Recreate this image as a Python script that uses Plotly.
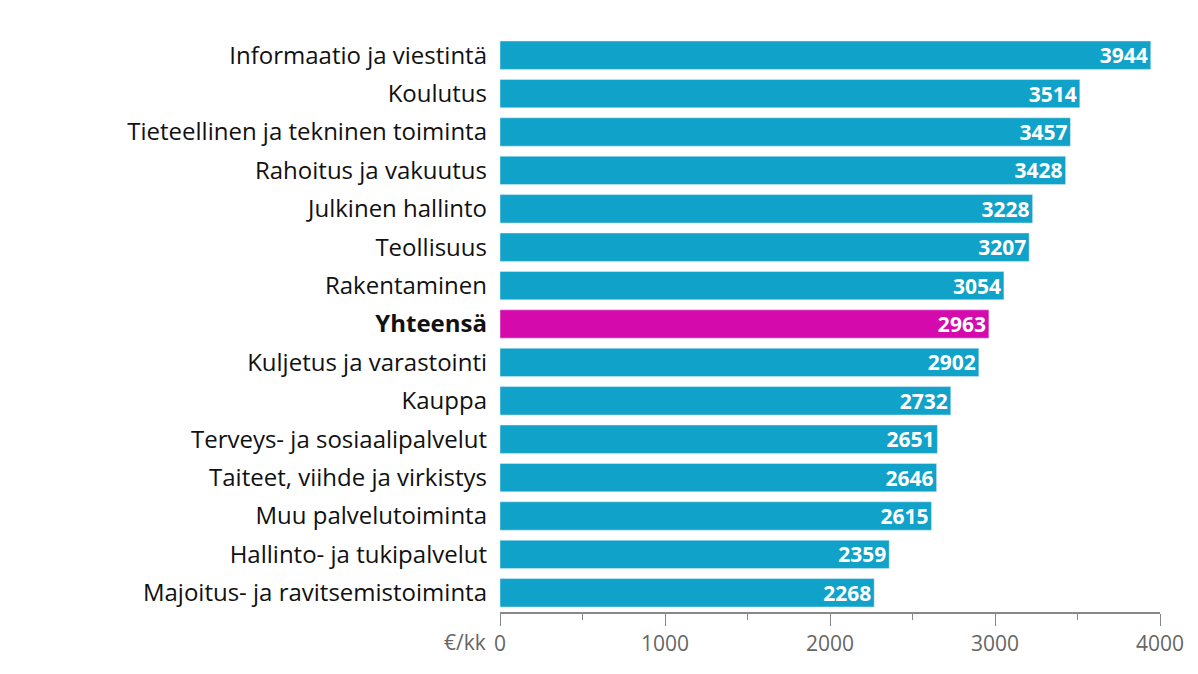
import plotly.graph_objects as go

categories = ["Informaatio ja viestintä", "Koulutus", "Tieteellinen ja tekninen toiminta",
              "Rahoitus ja vakuutus", "Julkinen hallinto", "Teollisuus", "Rakentaminen",
              "Yhteensä", "Kuljetus ja varastointi", "Kauppa", "Terveys- ja sosiaalipalvelut",
              "Taiteet, viihde ja virkistys", "Muu palvelutoiminta", "Hallinto- ja tukipalvelut",
              "Majoitus- ja ravitsemistoiminta"]
values = [3944, 3514, 3457, 3428, 3228, 3207, 3054, 2963, 2902, 2732, 2651, 2646, 2615, 2359, 2268]
highlight = "Yhteensä"
tick_vals = [0, 1000, 2000, 3000, 4000]

colors = ["#d40aad" if c == highlight else "#10a2c9" for c in categories]
labels = ["<b>%s</b>" % c if c == highlight else c for c in categories]

fig = go.Figure(go.Bar(
    y=labels, x=values, orientation="h", marker_color=colors,
    text=["<b>%d</b>" % v for v in values], textposition="inside", insidetextanchor="end",
    textfont=dict(color="white", size=21, family="Open Sans"), cliponaxis=False,
))
fig.update_layout(
    width=1198, height=674, paper_bgcolor="white", plot_bgcolor="white",
    margin=dict(l=492, r=46, t=28, b=70), bargap=0.26, showlegend=False,
    font=dict(family="Open Sans", color="#111"),
    uniformtext=dict(minsize=21, mode="show"),
)
fig.update_yaxes(autorange="reversed", tickfont=dict(size=24, color="#111"), ticks="",
                 ticklabelstandoff=12, showgrid=False)
fig.update_xaxes(range=[0, 4000], tickvals=tick_vals, ticktext=[str(t) for t in tick_vals],
                 tickfont=dict(size=21, color="#666"), showgrid=False, zeroline=False,
                 showline=True, linecolor="#888", linewidth=1.5, ticks="outside", ticklen=12,
                 tickcolor="#888", minor=dict(dtick=500, ticks="outside", ticklen=6, tickcolor="#888"))
fig.add_annotation(text="€/kk", xref="paper", yref="paper", x=0, y=0, xshift=-12, yshift=-14,
                   xanchor="right", yanchor="top", showarrow=False,
                   font=dict(size=21, color="#666", family="Open Sans"))
fig.write_html("out.html")
